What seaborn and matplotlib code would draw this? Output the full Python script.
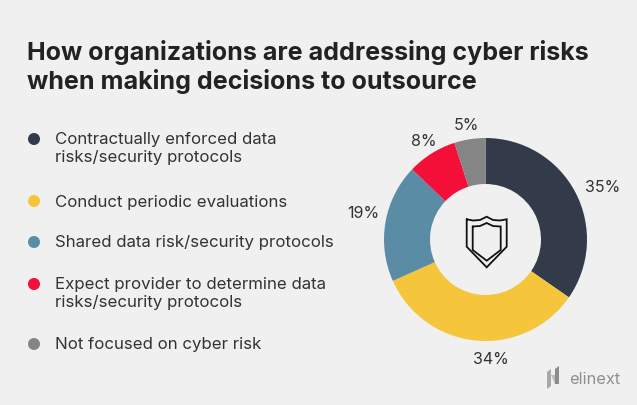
import matplotlib
matplotlib.use('Agg')
import matplotlib.pyplot as plt
import seaborn as sns

categories = ['Contractually enforced data\nrisks/security protocols', 'Conduct periodic evaluations',
              'Shared data risk/security protocols', 'Expect provider to determine data\nrisks/security protocols',
              'Not focused on cyber risk']
values = [35, 34, 19, 8, 5]
colors = ['#333a4a', '#f5c63c', '#5b8ca5', '#f30f38', '#858585']
title = 'How organizations are addressing cyber risks\nwhen making decisions to outsource'

bg = '#f0f0f0'
sns.set_theme(style='white')
plt.rcParams['font.family'] = ['Inter', 'DejaVu Sans']

W, H = 637, 405
fig = plt.figure(figsize=(W / 100, H / 100), dpi=100, facecolor=bg)

# donut, placed in pixels
cx, cy, r = 485.5, 239.5, 101.5
ax_pie = fig.add_axes([(cx - r) / W, 1 - (cy + r) / H, 2 * r / W, 2 * r / H])
ax_pie.pie(values, colors=colors, startangle=90, counterclock=False, radius=1,
           wedgeprops=dict(width=1 - 55.5 / 101.5, linewidth=0))
ax_pie.set_xlim(-1, 1)
ax_pie.set_ylim(-1, 1)

# overlay in pixel coordinates for everything else
ax = fig.add_axes([0, 0, 1, 1], facecolor='none')
ax.set_xlim(0, W)
ax.set_ylim(H, 0)
ax.axis('off')

ax.text(27, 67, title, fontsize=18.05, fontweight='bold', color='#222222', va='center', linespacing=1.17)

dot_y = [139, 201, 242, 284, 344]
sns.scatterplot(x=[34] * 5, y=dot_y, hue=categories, palette=colors, s=75, linewidth=0, legend=False, ax=ax)
for y, name in zip(dot_y, categories):
    ax.text(55, y + (9.5 if '\n' in name else 1), name, fontsize=12.15, color='#333333', va='center', linespacing=1.25)

label_pos = [(603, 188), (491, 360), (363, 214), (424, 142), (466, 125)]
for (x, y), v in zip(label_pos, values):
    ax.text(x, y, f'{v}%', fontsize=11.5, color='#333333', ha='center', va='center')

# shield icon
outer = [(466.7, 219.3), (473, 220.5), (480, 220), (486.7, 216.7), (493, 220), (500, 220.5), (506.7, 219.3),
         (506.7, 246.7), (486.7, 267.3), (466.7, 246.7), (466.7, 219.3)]
inner = [(472.7, 226.5), (480, 226), (486.7, 223), (493, 226), (500.7, 226.5), (500.7, 250), (486.7, 260.7),
         (472.7, 250), (472.7, 226.5)]
for pts in (outer, inner):
    ax.plot(*zip(*pts), color='#111111', lw=1.3, solid_joinstyle='miter')

# logo
ax.fill([547, 551, 551, 547], [372, 369, 386, 389], color='#a8a8a8', lw=0)
ax.fill([551, 555, 559, 555], [375, 375, 384, 384], color='#bdbdbd', lw=0)
ax.fill([555, 559, 559, 555], [369, 366, 384, 384], color='#8c8c8c', lw=0)
ax.text(569, 379, 'elinext', fontsize=11.8, color='#8f8f8f', va='center')

fig.savefig('out.png', dpi=100, facecolor=bg)
